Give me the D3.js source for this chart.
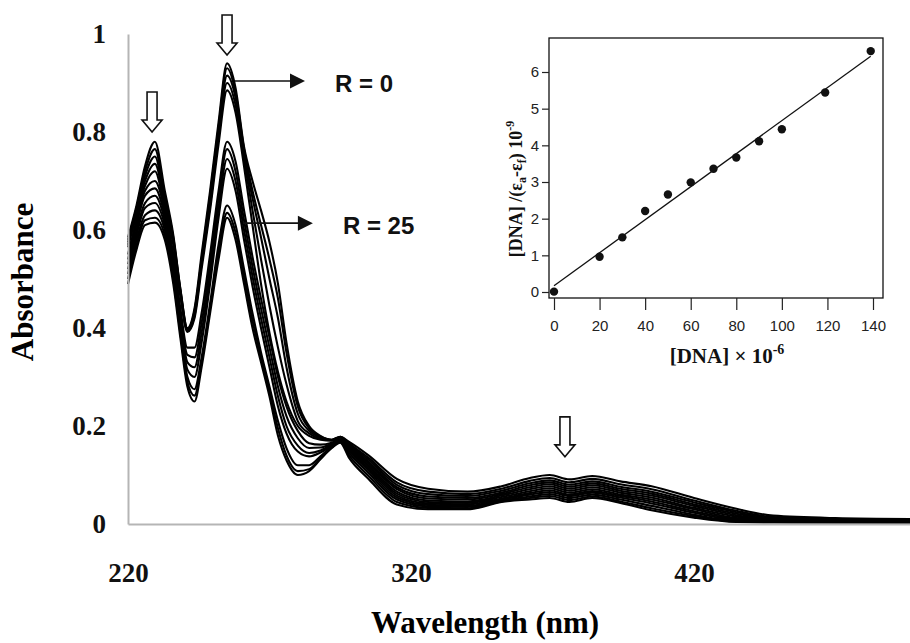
<!DOCTYPE html>
<html>
<head>
<meta charset="utf-8">
<script src="https://cdn.jsdelivr.net/npm/d3@7"></script>
<style>
  body { margin: 0; background: #fff; }
  svg { display: block; }
</style>
</head>
<body>
<div id="chart-container"></div>
<script>
// wavelength grid (nm) shared by every spectrum
const wavelengths = [220, 223, 226, 229.5, 233, 236, 238.5, 241, 243.5, 246, 249, 252, 255,
  258, 261, 264, 267, 270, 273, 276, 280, 284, 288, 292, 295,
  298, 305, 315, 326, 340, 352, 362, 369, 376, 384, 394, 405, 420, 435, 448, 470, 500];

// absorbance, R = 0 (top) down to R = 25 (bottom)
const spectrum1 = [.585,.65,.73,.78,.68,.59,.48,.40,.44,.55,.68,.82,.94,
  .89,.77,.70,.64,.575,.49,.37,.25,.20,.18,.172,.178,
  .168,.140,.092,.072,.066,.077,.094,.100,.091,.098,.087,.077,.053,.031,.017,.012,.010];
const spectrum2 = [.58,.645,.72,.765,.67,.585,.48,.398,.435,.54,.67,.81,.93,
  .88,.765,.68,.61,.54,.46,.35,.24,.195,.178,.172,.178,
  .165,.135,.085,.066,.061,.072,.088,.094,.085,.092,.081,.071,.048,.027,.014,.010,.008];
const spectrum3 = [.575,.64,.71,.75,.66,.58,.475,.396,.43,.535,.66,.80,.915,
  .87,.755,.665,.585,.50,.42,.32,.225,.19,.176,.171,.177,
  .163,.131,.080,.061,.057,.068,.083,.089,.080,.087,.076,.066,.044,.024,.012,.009,.007];
const spectrum4 = [.57,.635,.70,.735,.655,.575,.47,.394,.425,.53,.65,.79,.90,
  .855,.745,.64,.54,.445,.36,.285,.21,.185,.174,.171,.177,
  .161,.127,.075,.056,.053,.064,.079,.085,.076,.083,.072,.062,.040,.021,.010,.008,.006];
const spectrum5 = [.565,.63,.69,.72,.645,.57,.465,.392,.42,.52,.64,.775,.885,
  .84,.73,.61,.49,.39,.31,.25,.20,.18,.172,.17,.176,
  .159,.124,.071,.052,.050,.061,.075,.081,.072,.079,.068,.058,.037,.018,.009,.007,.006];
const spectrum6 = [.55,.62,.68,.70,.64,.55,.44,.36,.36,.43,.55,.68,.78,
  .74,.64,.545,.46,.38,.30,.24,.19,.165,.162,.166,.173,
  .157,.120,.066,.048,.046,.058,.071,.077,.068,.075,.064,.054,.033,.015,.008,.006,.005];
const spectrum7 = [.54,.61,.67,.685,.63,.54,.43,.345,.34,.41,.53,.665,.765,
  .72,.62,.525,.44,.36,.28,.22,.175,.155,.156,.164,.172,
  .155,.117,.062,.045,.043,.055,.067,.073,.064,.071,.060,.050,.030,.012,.007,.006,.005];
const spectrum8 = [.53,.60,.655,.67,.62,.53,.42,.33,.32,.39,.51,.645,.745,
  .70,.60,.505,.42,.34,.26,.20,.16,.145,.15,.162,.171,
  .152,.113,.058,.042,.040,.052,.063,.069,.060,.067,.057,.046,.026,.010,.006,.005,.004];
const spectrum9 = [.52,.59,.645,.655,.61,.52,.41,.315,.30,.37,.49,.625,.725,
  .68,.58,.485,.40,.32,.24,.185,.148,.138,.146,.16,.17,
  .150,.109,.054,.039,.037,.050,.060,.065,.057,.064,.054,.042,.023,.008,.005,.005,.004];
const spectrum10 = [.51,.58,.63,.64,.60,.51,.40,.30,.275,.34,.45,.57,.65,
  .61,.52,.43,.35,.28,.21,.155,.12,.12,.138,.158,.168,
  .146,.104,.050,.036,.035,.048,.056,.061,.053,.060,.050,.037,.019,.006,.004,.004,.003];
const spectrum11 = [.50,.57,.62,.625,.59,.50,.39,.29,.262,.33,.44,.555,.635,
  .595,.505,.415,.34,.27,.195,.14,.108,.112,.134,.156,.167,
  .141,.098,.045,.033,.032,.046,.053,.057,.049,.056,.046,.032,.016,.005,.004,.003,.003];
const spectrum12 = [.49,.56,.61,.615,.58,.49,.38,.28,.25,.32,.43,.54,.625,
  .58,.49,.40,.33,.26,.18,.13,.10,.108,.132,.155,.166,
  .136,.092,.040,.030,.030,.045,.050,.053,.045,.053,.043,.028,.013,.004,.003,.003,.003];

const absTicks = [0, 0.2, 0.4, 0.6, 0.8, 1];
const absTickLabels = ['0', '0.2', '0.4', '0.6', '0.8', '1'];
const wlTicks = [220, 320, 420];

// peaks marked with hollow arrows (wavelength, absorbance at arrow tip)
const peakMarkWl = [228.5, 255, 374.4];
const peakMarkAbs = [0.80, 0.957, 0.137];

// inset: binding plot
const dnaConc = [0, 20, 30, 40, 50, 60, 70, 80, 90, 100, 119, 139];
const dnaRatio = [0.01, 0.96, 1.49, 2.21, 2.66, 2.99, 3.36, 3.67, 4.11, 4.44, 5.44, 6.57];
const fitConc = [0, 139];
const fitRatio = [0.17, 6.43];
const insetXTicks = [0, 20, 40, 60, 80, 100, 120, 140];
const insetYTicks = [0, 1, 2, 3, 4, 5, 6];

const serif = "'Liberation Serif', 'Times New Roman', serif";
const narrow = "'Liberation Sans Narrow', 'Arial Narrow', 'Liberation Sans', sans-serif";

const svg = d3.select('#chart-container').append('svg')
    .attr('width', 910)
    .attr('height', 643);

drawSpectra(svg);
drawInset(svg);

function drawSpectra(svg) {
  const x = d3.scaleLinear([220, 500], [128, 920.4]);
  const y = d3.scaleLinear([0, 1], [524, 34]);
  const spectra = [spectrum1, spectrum2, spectrum3, spectrum4, spectrum5, spectrum6,
    spectrum7, spectrum8, spectrum9, spectrum10, spectrum11, spectrum12];

  const line = d3.line()
      .x((d, i) => x(wavelengths[i]))
      .y(d => y(d))
      .curve(d3.curveMonotoneX);

  svg.append('g')
      .attr('id', 'spectra')
    .selectAll('path')
    .data(spectra)
    .join('path')
      .attr('d', line)
      .attr('fill', 'none')
      .attr('stroke', '#000')
      .attr('stroke-width', 2.1);

  const yAxis = d3.axisLeft(y)
      .tickValues(absTicks)
      .tickFormat((d, i) => absTickLabels[i])
      .tickSize(0)
      .tickPadding(22);
  const xAxis = d3.axisBottom(x)
      .tickValues(wlTicks)
      .tickSize(0)
      .tickPadding(39);

  svg.append('g')
      .attr('transform', `translate(${x(220)}, 0)`)
      .call(yAxis)
      .call(styleMainAxis);
  svg.append('g')
      .attr('transform', `translate(0, ${y(0)})`)
      .call(xAxis)
      .call(styleMainAxis);

  svg.append('text')
      .attr('transform', `translate(33, 282) rotate(-90)`)
      .attr('text-anchor', 'middle')
      .attr('font-family', serif)
      .attr('font-weight', 'bold')
      .attr('font-size', 31)
      .text('Absorbance');
  svg.append('text')
      .attr('x', 485)
      .attr('y', 633)
      .attr('text-anchor', 'middle')
      .attr('font-family', serif)
      .attr('font-weight', 'bold')
      .attr('font-size', 31)
      .text('Wavelength (nm)');

  // hollow arrows over the peaks
  peakMarkWl.forEach((wl, i) => {
    const cx = x(wl), tip = y(peakMarkAbs[i]);
    const top = tip - 40, head = tip - 12;
    svg.append('path')
        .attr('d', `M${cx - 5},${top}H${cx + 5}V${head}H${cx + 10}L${cx},${tip}L${cx - 10},${head}H${cx - 5}Z`)
        .attr('fill', '#fff')
        .attr('stroke', '#111')
        .attr('stroke-width', 1.6);
  });

  // R labels with pointer arrows
  const rLabels = [
    { text: 'R = 0', wl: 257.8, abs: 0.904 },
    { text: 'R = 25', wl: 260.6, abs: 0.614 },
  ];
  rLabels.forEach(lab => {
    const x0 = x(lab.wl), y0 = y(lab.abs);
    svg.append('line')
        .attr('x1', x0).attr('y1', y0)
        .attr('x2', x0 + 58).attr('y2', y0)
        .attr('stroke', '#111')
        .attr('stroke-width', 1.6);
    svg.append('path')
        .attr('d', `M${x0 + 55},${y0 - 7.5}L${x0 + 70},${y0}L${x0 + 55},${y0 + 7.5}Z`)
        .attr('fill', '#111');
    svg.append('text')
        .attr('x', x0 + 100)
        .attr('y', y0 + 11)
        .attr('font-family', narrow)
        .attr('font-weight', 'bold')
        .attr('font-size', 24)
        .attr('fill', '#111')
        .text(lab.text);
  });
}

function styleMainAxis(g) {
  g.attr('font-family', serif)
      .attr('font-size', 27)
      .attr('font-weight', 'bold');
  g.select('.domain')
      .attr('stroke', '#b5b5b5')
      .attr('stroke-width', 2);
  g.selectAll('text').attr('fill', '#111');
}

function drawInset(svg) {
  const ix = d3.scaleLinear([0, 140], [554, 873]);
  const iy = d3.scaleLinear([0, 6], [292, 72]);

  svg.append('rect')
      .attr('x', 549)
      .attr('y', 38)
      .attr('width', 334)
      .attr('height', 260)
      .attr('fill', '#fff')
      .attr('stroke', '#111')
      .attr('stroke-width', 1.3);

  const yAxis = d3.axisLeft(iy).tickValues(insetYTicks).tickFormat(d3.format('d')).tickSize(7).tickPadding(3);
  const xAxis = d3.axisBottom(ix).tickValues(insetXTicks).tickFormat(d3.format('d')).tickSize(12).tickPadding(10);

  svg.append('g')
      .attr('transform', 'translate(549, 0)')
      .call(yAxis)
      .call(styleInsetAxis);
  svg.append('g')
      .attr('transform', 'translate(0, 298)')
      .call(xAxis)
      .call(styleInsetAxis);

  svg.append('line')
      .attr('x1', ix(fitConc[0])).attr('y1', iy(fitRatio[0]))
      .attr('x2', ix(fitConc[1])).attr('y2', iy(fitRatio[1]))
      .attr('stroke', '#111')
      .attr('stroke-width', 1.3);

  svg.append('g')
    .selectAll('circle')
    .data(dnaConc)
    .join('circle')
      .attr('cx', d => ix(d))
      .attr('cy', (d, i) => iy(dnaRatio[i]))
      .attr('r', 4.2)
      .attr('fill', '#111');

  const xt = svg.append('text')
      .attr('x', 727)
      .attr('y', 363)
      .attr('text-anchor', 'middle')
      .attr('font-family', serif)
      .attr('font-weight', 'bold')
      .attr('font-size', 21)
      .attr('fill', '#111');
  xt.append('tspan').text('[DNA] \u00d7 10');
  xt.append('tspan').attr('dy', -9).attr('font-size', 14).text('-6');

  const yt = svg.append('text')
      .attr('transform', 'translate(522, 189) rotate(-90)')
      .attr('text-anchor', 'middle')
      .attr('font-family', serif)
      .attr('font-weight', 'bold')
      .attr('font-size', 18)
      .attr('fill', '#111');
  yt.append('tspan').text('[DNA] /(\u03b5');
  yt.append('tspan').attr('dy', 4).attr('font-size', 12).text('a');
  yt.append('tspan').attr('dy', -4).text('-\u03b5');
  yt.append('tspan').attr('dy', 4).attr('font-size', 12).text('f');
  yt.append('tspan').attr('dy', -4).text(') 10');
  yt.append('tspan').attr('dy', -8).attr('font-size', 12).text('-9');
}

function styleInsetAxis(g) {
  g.select('.domain').remove();
  g.attr('font-family', narrow).attr('font-size', 15);
  g.selectAll('line').attr('stroke', '#222').attr('stroke-width', 1.2);
  g.selectAll('text').attr('fill', '#222');
}
</script>
</body>
</html>
